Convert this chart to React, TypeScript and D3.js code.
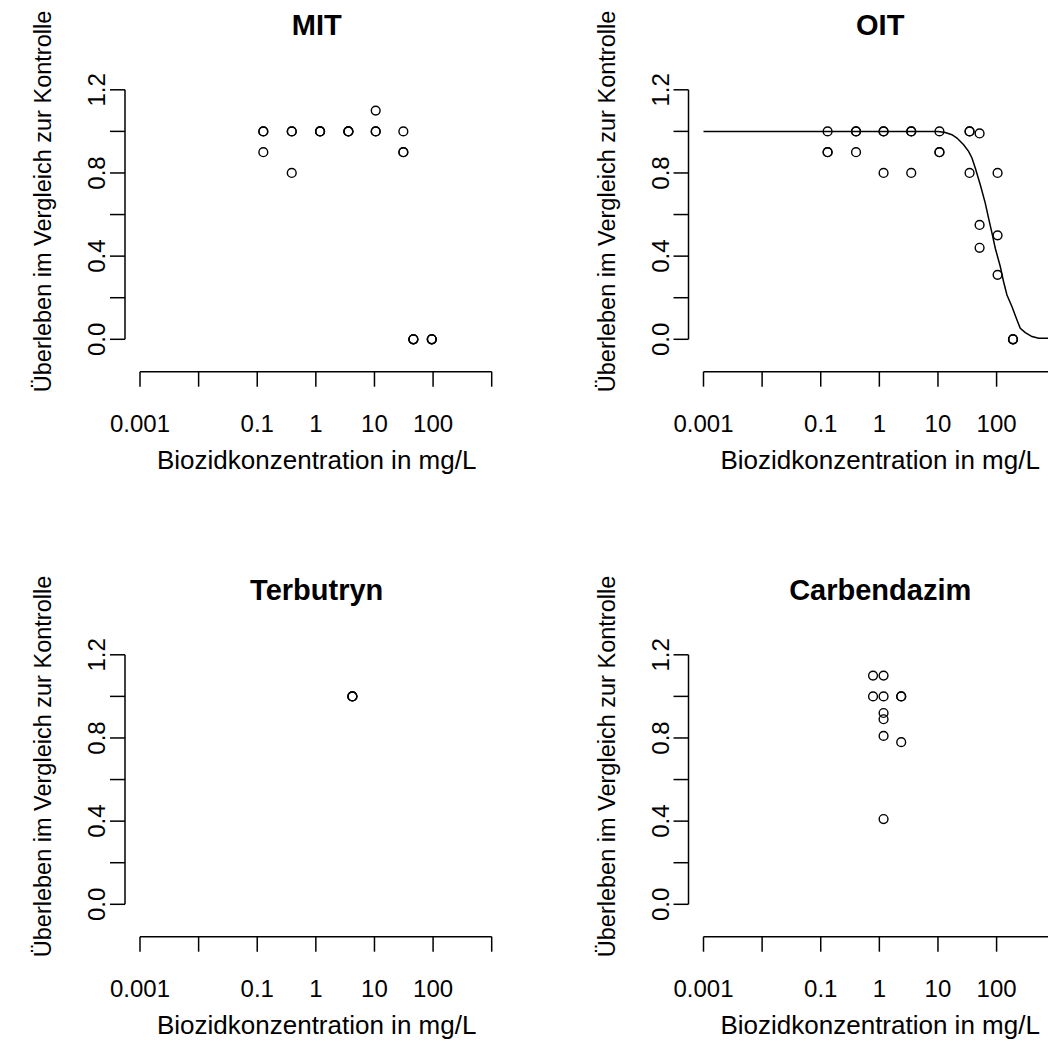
import React from "react";
import * as d3 from "d3";

const xTicks = [0.001, 0.01, 0.1, 1, 10, 100, 1000];
const xTickLabels = ["0.001", "", "0.1", "1", "10", "100", ""];
const yTicks = [0, 0.2, 0.4, 0.6, 0.8, 1.0, 1.2];
const yTickLabels = ["0.0", "", "0.4", "", "0.8", "", "1.2"];

const xTitle = "Biozidkonzentration in mg/L";
const yTitle = "Überleben im Vergleich zur Kontrolle";

const mitConc = [0.127, 0.127, 0.127, 0.388, 0.388, 0.388, 1.18, 1.18, 1.18, 3.59, 3.59, 3.59, 10.5, 10.5, 10.5, 31.1, 31.1, 31.1, 46.1, 46.1, 46.1, 95, 95, 95];
const mitSurv = [1, 1, 0.9, 1, 1, 0.8, 1, 1, 1, 1, 1, 1, 1.1, 1, 1, 1, 0.9, 0.9, 0, 0, 0, 0, 0, 0];

const oitConc = [0.131, 0.131, 0.131, 0.4, 0.4, 0.4, 1.18, 1.18, 1.18, 3.5, 3.5, 3.5, 10.6, 10.6, 10.6, 34.6, 34.6, 34.6, 51.3, 51.3, 51.3, 104, 104, 104, 190.6, 190.6, 190.6];
const oitSurv = [1, 0.9, 0.9, 1, 1, 0.9, 1, 1, 0.8, 1, 1, 0.8, 1, 0.9, 0.9, 1, 1, 0.8, 0.99, 0.55, 0.44, 0.8, 0.5, 0.31, 0, 0, 0];

const oitCurveConc = [0.001, 10, 13.3, 17.3, 21.1, 27.4, 33.3, 38.0, 43.3, 52.7, 64.1, 73.0, 83.5, 95.0, 115.6, 131.6, 150.4, 183.2, 222.8, 253.6, 309, 402, 521, 762, 1000];
const oitCurveSurv = [1.0, 1.0, 0.995, 0.984, 0.968, 0.936, 0.904, 0.872, 0.824, 0.743, 0.655, 0.583, 0.511, 0.438, 0.35, 0.277, 0.213, 0.157, 0.093, 0.053, 0.032, 0.013, 0.005, 0.005, 0.004];

const terConc = [4.2, 4.2, 4.2];
const terSurv = [1, 1, 1];

const carConc = [0.78, 0.78, 1.18, 1.18, 1.18, 1.18, 1.18, 1.18, 2.36, 2.36, 2.36];
const carSurv = [1.1, 1.0, 1.1, 1.0, 0.92, 0.89, 0.81, 0.41, 1.0, 1.0, 0.78];

type Panel = {
  title: string;
  conc: number[];
  surv: number[];
  curveConc?: number[];
  curveSurv?: number[];
  col: number;
  row: number;
};

const panels: Panel[] = [
  { title: "MIT", conc: mitConc, surv: mitSurv, col: 0, row: 0 },
  { title: "OIT", conc: oitConc, surv: oitSurv, curveConc: oitCurveConc, curveSurv: oitCurveSurv, col: 1, row: 0 },
  { title: "Terbutryn", conc: terConc, surv: terSurv, col: 0, row: 1 },
  { title: "Carbendazim", conc: carConc, surv: carSurv, col: 1, row: 1 },
];

const W = 1048;
const H = 1059;
const DX = 563.5;
const DY = 565;
const FONT = "'Liberation Sans', Arial, Helvetica, sans-serif";

const x = d3.scaleLog().domain([0.001, 1000]).range([140, 491.7]);
const y = d3.scaleLinear().domain([0, 1.2]).range([339.3, 89.8]);

const AXIS_Y = 371.7;
const AXIS_X = 125;
const PLOT_CX = 316.7;
const PLOT_CY = 201.5;

function PanelView({ p }: { p: Panel }) {
  const line = d3
    .line<number>()
    .x((_, i) => x(p.curveConc![i]))
    .y((d) => y(d));
  return (
    <g transform={`translate(${p.col * DX},${p.row * DY})`}>
      <text x={PLOT_CX} y={35} textAnchor="middle" fontWeight="bold" fontSize={29}>
        {p.title}
      </text>
      {/* y axis */}
      <line x1={AXIS_X} x2={AXIS_X} y1={y(0)} y2={y(1.2)} stroke="#000" strokeWidth={1.5} />
      {yTicks.map((t, i) => (
        <g key={"yt" + i}>
          <line x1={AXIS_X - 15} x2={AXIS_X} y1={y(t)} y2={y(t)} stroke="#000" strokeWidth={1.5} />
          {yTickLabels[i] && (
            <text
              transform={`translate(${AXIS_X - 20},${y(t)}) rotate(-90)`}
              textAnchor="middle"
              fontSize={24}
            >
              {yTickLabels[i]}
            </text>
          )}
        </g>
      ))}
      <text transform={`translate(51,${PLOT_CY}) rotate(-90)`} textAnchor="middle" fontSize={23.5}>
        {yTitle}
      </text>
      {/* x axis */}
      <line x1={x(0.001)} x2={x(1000)} y1={AXIS_Y} y2={AXIS_Y} stroke="#000" strokeWidth={1.5} />
      {xTicks.map((t, i) => (
        <g key={"xt" + i}>
          <line x1={x(t)} x2={x(t)} y1={AXIS_Y} y2={AXIS_Y + 15} stroke="#000" strokeWidth={1.5} />
          {xTickLabels[i] && (
            <text x={x(t)} y={431.7} textAnchor="middle" fontSize={24}>
              {xTickLabels[i]}
            </text>
          )}
        </g>
      ))}
      <text x={PLOT_CX} y={469} textAnchor="middle" fontSize={26}>
        {xTitle}
      </text>
      {p.curveConc && p.curveSurv && (
        <path d={line(p.curveSurv) || ""} fill="none" stroke="#000" strokeWidth={1.5} />
      )}
      {p.conc.map((c, i) => (
        <circle key={"pt" + i} cx={x(c)} cy={y(p.surv[i])} r={4.4} fill="none" stroke="#000" strokeWidth={1.4} />
      ))}
    </g>
  );
}

export default function App() {
  return (
    <div style={{ position: "absolute", left: 0, top: 0, width: W, height: H, background: "#fff" }}>
      <svg width={W} height={H} style={{ display: "block", fontFamily: FONT }}>
        <rect width={W} height={H} fill="#fff" />
        {panels.map((p) => (
          <PanelView key={p.title} p={p} />
        ))}
      </svg>
    </div>
  );
}
